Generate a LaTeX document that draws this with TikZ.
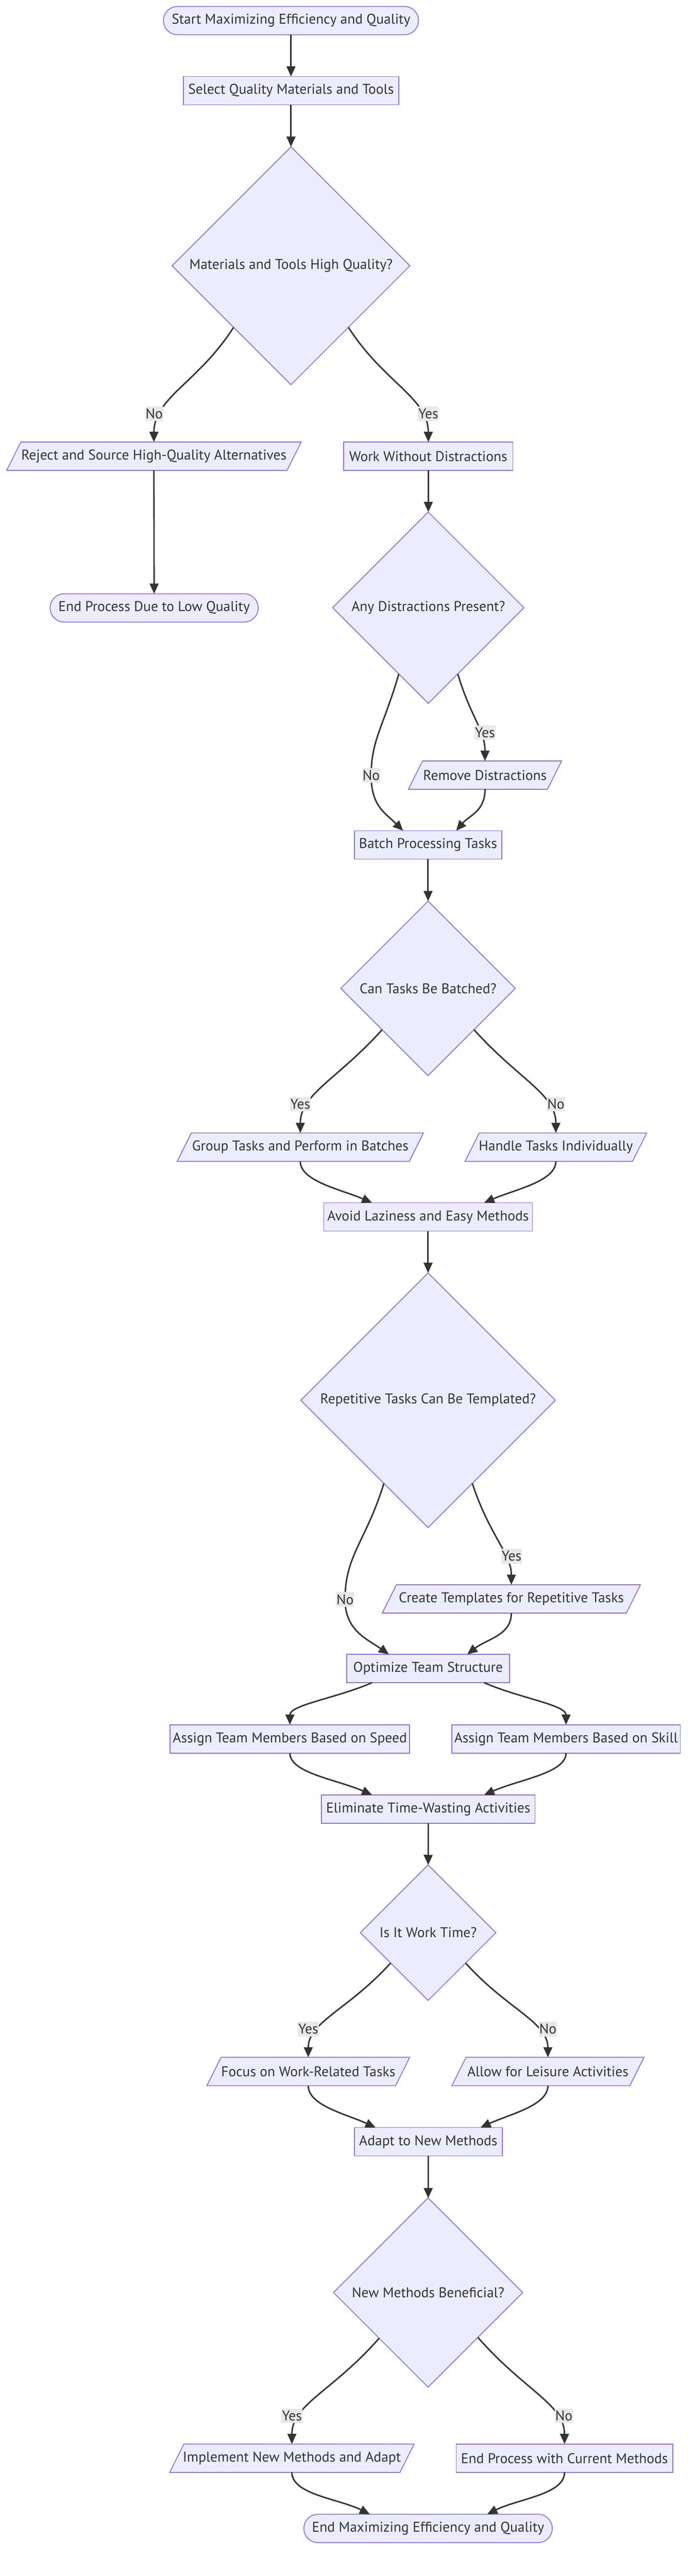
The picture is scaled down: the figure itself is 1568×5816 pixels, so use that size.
\documentclass[tikz,border=0pt]{standalone}
\usepackage{fontspec}
\setmainfont{PT Sans}
\usetikzlibrary{shapes.geometric,arrows.meta,backgrounds,calc}
\definecolor{nfill}{HTML}{ECECFF}
\definecolor{nline}{HTML}{9370DB}
\definecolor{ink}{HTML}{333333}
\definecolor{lblbg}{HTML}{E8E8E8}
\newcommand{\iobox}[1]{\begin{pgfonlayer}{background}\filldraw[draw=nline, fill=nfill, line width=2pt] ([xshift=32pt]#1.north west) -- (#1.north east) -- ([xshift=-32pt]#1.south east) -- (#1.south west) -- cycle;\end{pgfonlayer}}
\begin{document}
\begin{tikzpicture}[x=1pt,y=-1pt,
  every node/.style={font=\fontsize{32}{38}\selectfont, text=ink, inner sep=0pt, outer sep=0pt},
  proc/.style={rectangle, draw=nline, fill=nfill, line width=2pt, minimum height=64pt},
  term/.style={proc, rounded corners=32pt},
  dec/.style={diamond, draw=nline, fill=nfill, line width=2pt, aspect=1},
  io/.style={rectangle, minimum height=64pt},
  lbl/.style={fill=lblbg, minimum height=33pt, inner xsep=1pt},
  flow/.style={draw=ink, line width=3.3pt, -{Triangle[length=23pt,width=20pt]}},
]
\begin{pgfonlayer}{background}
\fill[white] (0,0) rectangle (1568,5816);
\end{pgfonlayer}
\path[use as bounding box] (0,0) rectangle (1568,5816);

% nodes
\node[term, minimum width=576pt] (start) at (657,46.5) {Start Maximizing Efficiency and Quality};
\node[proc, minimum width=486pt] (select) at (657,204.7) {Select Quality Materials and Tools};
\node[dec, minimum width=537pt, minimum height=537pt] (d1) at (657,600) {Materials and Tools High Quality?};
\node[io, minimum width=665pt] (reject) at (347.5,1030) {Reject and Source High-Quality Alternatives};
\iobox{reject}
\node[proc, minimum width=382pt] (work) at (967,1030) {Work Without Distractions};
\node[term, minimum width=470pt] (endlow) at (348,1372.5) {End Process Due to Low Quality};
\node[dec, minimum width=432pt, minimum height=432pt] (d2) at (967,1372) {Any Distractions Present?};
\node[io, minimum width=346pt] (remove) at (1095,1750) {Remove Distractions};
\iobox{remove}
\node[proc, minimum width=333pt] (batch) at (966.5,1907.5) {Batch Processing Tasks};
\node[dec, minimum width=394pt, minimum height=394pt] (d3) at (966.5,2231.5) {Can Tasks Be Batched?};
\node[io, minimum width=556pt] (group) at (678,2590) {Group Tasks and Perform in Batches};
\iobox{group}
\node[io, minimum width=410pt] (handle) at (1255,2590) {Handle Tasks Individually};
\iobox{handle}
\node[proc, minimum width=471pt] (avoid) at (966.5,2747.5) {Avoid Laziness and Easy Methods};
\node[dec, minimum width=575pt, minimum height=575pt] (d4) at (966.5,3161.4) {Repetitive Tasks Can Be Templated?};
\node[io, minimum width=583pt] (create) at (1154.5,3610) {Create Templates for Repetitive Tasks};
\iobox{create}
\node[proc, minimum width=367pt] (optimize) at (966.5,3767) {Optimize Team Structure};
\node[proc, minimum width=541pt] (speed) at (654.5,3926) {Assign Team Members Based on Speed};
\node[proc, minimum width=516pt] (skill) at (1278,3926) {Assign Team Members Based on Skill};
\node[proc, minimum width=482pt] (elim) at (967,4084.5) {Eliminate Time-Wasting Activities};
\node[dec, minimum width=306pt, minimum height=306pt] (d5) at (966.5,4363.5) {Is It Work Time?};
\node[io, minimum width=458pt] (focus) at (696,4677) {Focus on Work-Related Tasks};
\iobox{focus}
\node[io, minimum width=434pt] (allow) at (1237,4677) {Allow for Leisure Activities};
\iobox{allow}
\node[proc, minimum width=334pt] (adapt) at (967,4835.5) {Adapt to New Methods};
\node[dec, minimum width=427pt, minimum height=427pt] (d6) at (966.5,5176) {New Methods Beneficial?};
\node[io, minimum width=552pt] (implement) at (659,5550) {Implement New Methods and Adapt};
\iobox{implement}
\node[proc, minimum width=489pt] (endcur) at (1274.5,5550) {End Process with Current Methods};
\node[term, minimum width=561pt] (end) at (966.5,5708.5) {End Maximizing Efficiency and Quality};

% label positions
\coordinate (l3) at (348,934);
\coordinate (l4) at (967,934);
\coordinate (l7) at (838,1750.6);
\coordinate (l8) at (1095,1653.7);
\coordinate (l11) at (678,2493);
\coordinate (l12) at (1255,2493);
\coordinate (l16) at (779,3611);
\coordinate (l17) at (1155,3513.4);
\coordinate (l24) at (696,4581);
\coordinate (l25) at (1237,4581);
\coordinate (l29) at (659,5454.3);
\coordinate (l30) at (1273,5454.3);

% edges
\draw[flow] (start) -- (select);
\draw[flow] (select) -- (d1);
\draw[flow] (d1.227) .. controls +(-80,125) and +(0,-100) .. (reject.north);
\draw[flow] (d1.313) .. controls +(80,125) and +(0,-100) .. (work.north);
\draw[flow] (reject.south) -- (endlow.north);
\draw[flow] (work) -- (d2);
\draw[flow] (d2.246) .. controls +(-35,120) and +(0,-80) .. (l7) .. controls +(0,70) and +(-40,-40) .. ([xshift=-56.5]batch.north);
\draw[flow] (d2.294) .. controls +(30,100) and +(0,-70) .. (remove.north);
\draw[flow] (remove.south) .. controls +(0,50) and +(30,-35) .. ([xshift=63.5]batch.north);
\draw[flow] (batch) -- (d3);
\draw[flow] (d3.222) .. controls +(-102,113) and +(0,-88) .. (group.north);
\draw[flow] (d3.318) .. controls +(102,113) and +(0,-88) .. (handle.north);
\draw[flow] (group.south) .. controls +(0,45) and +(-70,-30) .. ([xshift=-126.5]avoid.north);
\draw[flow] (handle.south) .. controls +(0,45) and +(70,-30) .. ([xshift=126.5]avoid.north);
\draw[flow] (avoid) -- (d4);
\draw[flow] (d4.242) .. controls +(-40,130) and +(0,-100) .. (l16) .. controls +(0,70) and +(-50,-35) .. ([xshift=-88.5]optimize.north);
\draw[flow] (d4.298) .. controls +(40,120) and +(0,-70) .. (create.north);
\draw[flow] (create.south) .. controls +(0,50) and +(45,-35) .. ([xshift=88.5]optimize.north);
\draw[flow] ([xshift=-126.5]optimize.south) .. controls +(-80,35) and +(0,-45) .. (speed.north);
\draw[flow] ([xshift=126.5]optimize.south) .. controls +(80,35) and +(0,-45) .. (skill.north);
\draw[flow] (speed.south) .. controls +(0,45) and +(-80,-35) .. ([xshift=-127]elim.north);
\draw[flow] (skill.south) .. controls +(0,45) and +(80,-35) .. ([xshift=126]elim.north);
\draw[flow] (elim) -- (d5);
\draw[flow] (d5.219) .. controls +(-95,105) and +(0,-80) .. (focus.north);
\draw[flow] (d5.321) .. controls +(95,105) and +(0,-80) .. (allow.north);
\draw[flow] (focus.south) .. controls +(0,45) and +(-65,-30) .. ([xshift=-119]adapt.north);
\draw[flow] (allow.south) .. controls +(0,45) and +(65,-30) .. ([xshift=118]adapt.north);
\draw[flow] (adapt) -- (d6);
\draw[flow] (d6.223) .. controls +(-105,120) and +(0,-90) .. (implement.north);
\draw[flow] (d6.318) .. controls +(105,120) and +(0,-90) .. (endcur.north);
\draw[flow] (implement.south) .. controls +(0,50) and +(-70,-35) .. ([xshift=-131.5]end.north);
\draw[flow] (endcur.south) .. controls +(0,50) and +(70,-35) .. ([xshift=133.5]end.north);

% edge labels
\node[lbl] (t3) at (l3) {No};
\node[lbl] (t4) at (l4) {Yes};
\node[lbl] (t7) at (l7) {No};
\node[lbl] (t8) at (l8) {Yes};
\node[lbl] (t11) at (l11) {Yes};
\node[lbl] (t12) at (l12) {No};
\node[lbl] (t16) at (l16) {No};
\node[lbl] (t17) at (l17) {Yes};
\node[lbl] (t24) at (l24) {Yes};
\node[lbl] (t25) at (l25) {No};
\node[lbl] (t29) at (l29) {Yes};
\node[lbl] (t30) at (l30) {No};
\end{tikzpicture}
\end{document}
